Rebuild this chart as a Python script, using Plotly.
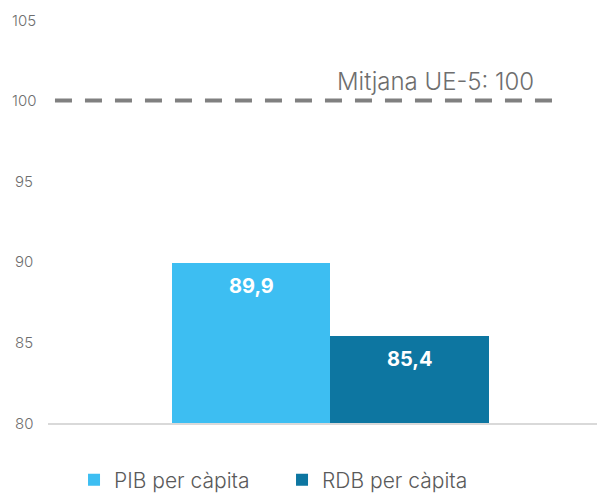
import plotly.graph_objects as go

series_names = ["PIB per càpita", "RDB per càpita"]
series_values = [89.9, 85.4]
value_labels = ["89,9", "85,4"]
series_colors = ["#3DBEF2", "#0D76A1"]
ytick_values = [80, 85, 90, 95, 100, 105]
ytick_labels = ["80", "85", "90", "95", "100", "105"]
reference_value = 100
reference_label = "Mitjana UE-5: 100"

FONT = "Inter"

fig = go.Figure()
for i, (name, val, col) in enumerate(zip(series_names, series_values, series_colors)):
    fig.add_trace(go.Bar(
        x=[i], y=[val], width=1, name=name,
        marker=dict(color=col, line=dict(width=0)),
        hoverinfo="skip",
    ))
    fig.add_annotation(
        x=i, y=val, xref="x", yref="y", text="<b>%s</b>" % value_labels[i],
        showarrow=False, yshift=-23, yanchor="middle",
        font=dict(family=FONT, size=20, color="white"),
    )

fig.add_shape(
    type="line", xref="x", yref="y",
    x0=-1.237, x1=1.95, y0=reference_value, y1=reference_value,
    line=dict(color="#808080", width=4, dash="17px,13px"),
)
fig.add_annotation(
    x=1.95, y=reference_value, xref="x", yref="y", text=reference_label,
    showarrow=False, xanchor="right", yanchor="bottom", yshift=3, xshift=-24,
    font=dict(family=FONT, size=24, color="#6e6e6e", weight=300),
)

for v, t in zip(ytick_values, ytick_labels):
    fig.add_annotation(
        x=-0.0437, y=v, xref="paper", yref="y", text=t, showarrow=False,
        xanchor="center", yanchor="middle",
        font=dict(family=FONT, size=15, color="#6e6e6e", weight=300),
    )

fig.update_layout(
    width=597, height=494,
    margin=dict(l=48, r=0, t=20, b=71),
    plot_bgcolor="white", paper_bgcolor="white",
    barmode="overlay", bargap=0,
    showlegend=True,
    legend=dict(
        orientation="h", x=0.0474, xanchor="left",
        yref="container", y=0.028, yanchor="middle",
        font=dict(family=FONT, size=21, color="#5a5a5a", weight=300),
        itemwidth=30, entrywidth=163,
    ),
    xaxis=dict(
        range=[-1.281, 2.183], showticklabels=False, showgrid=False,
        zeroline=False, showline=True, linecolor="#d9d9d9", linewidth=2,
        fixedrange=True,
    ),
    yaxis=dict(
        range=[80, 105], showticklabels=False, showgrid=False, zeroline=False,
        fixedrange=True,
    ),
)

fig.write_html(
    "out.html",
    config={"displayModeBar": False},
    post_script="document.body.style.margin='0';",
)
